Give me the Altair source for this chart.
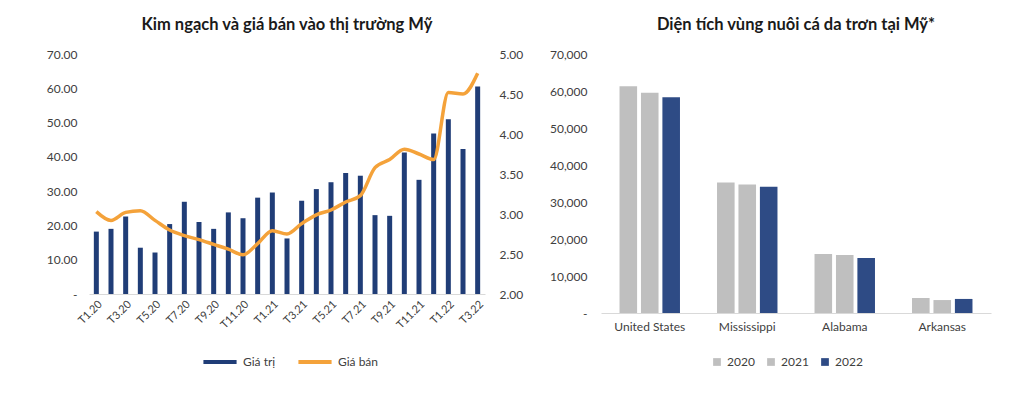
import altair as alt
import pandas as pd

months = ["T1.20", "T2.20", "T3.20", "T4.20", "T5.20", "T6.20", "T7.20", "T8.20", "T9.20",
          "T10.20", "T11.20", "T12.20", "T1.21", "T2.21", "T3.21", "T4.21", "T5.21", "T6.21",
          "T7.21", "T8.21", "T9.21", "T10.21", "T11.21", "T12.21", "T1.22", "T2.22", "T3.22"]
tick_months = ["T1.20", "T3.20", "T5.20", "T7.20", "T9.20", "T11.20", "T1.21", "T3.21",
               "T5.21", "T7.21", "T9.21", "T11.21", "T1.22", "T3.22"]
gia_tri = [18.2, 19.0, 22.6, 13.5, 12.1, 20.4, 26.9, 21.0, 19.0, 23.8, 22.1, 28.1, 29.6, 16.2,
           27.2, 30.6, 32.6, 35.3, 34.5, 23.0, 22.8, 41.3, 33.3, 46.8, 51.0, 42.3, 60.5]
gia_ban = [3.03, 2.92, 3.02, 3.04, 2.92, 2.80, 2.73, 2.68, 2.62, 2.56, 2.49, 2.63, 2.79, 2.75,
           2.88, 2.99, 3.05, 3.15, 3.23, 3.58, 3.68, 3.81, 3.75, 3.68, 4.52, 4.50, 4.76]

regions = ["United States", "Mississippi", "Alabama", "Arkansas"]
years = ["2020", "2021", "2022"]
area_2020 = [61300, 35300, 15950, 4050]
area_2021 = [59500, 34700, 15700, 3500]
area_2022 = [58300, 34150, 14850, 3800]

FONT = "Lato"
NAVY = "#203D77"
ORANGE = "#F4A23A"
GREY = "#BFBFBF"
NAVY2 = "#2E4B85"
TXT = "#404040"

df_left = pd.DataFrame({"thang": months, "gia_tri": gia_tri, "gia_ban": gia_ban})

color_left = alt.Color("series:N",
                       scale=alt.Scale(domain=["Giá trị", "Giá bán"], range=[NAVY, ORANGE]),
                       legend=alt.Legend(title=None, orient="none", direction="horizontal",
                                         legendX=112, legendY=289, symbolType="stroke",
                                         symbolSize=1100, symbolStrokeWidth=4,
                                         labelFontSize=12, labelColor=TXT, columnPadding=14,
                                         labelFont=FONT))

xl = alt.X("thang:N", sort=months, scale=alt.Scale(paddingInner=0.0, paddingOuter=0.0),
           axis=alt.Axis(title=None, values=tick_months, labelAngle=-45, labelFontSize=11,
                         labelColor=TXT, ticks=False, domainColor="#D9D9D9", labelPadding=4,
                         labelFont=FONT))

bars = alt.Chart(df_left).transform_calculate(series="'Giá trị'").mark_bar(size=5).encode(
    x=xl,
    y=alt.Y("gia_tri:Q", scale=alt.Scale(domain=[0, 70]),
            axis=alt.Axis(title=None, values=[0, 10, 20, 30, 40, 50, 60, 70], grid=False,
                          domain=False, ticks=False, labelPadding=12, labelFontSize=12,
                          labelColor=TXT, labelFont=FONT,
                          labelExpr="datum.value == 0 ? '-' : format(datum.value, '.2f')")),
    color=color_left,
)

line = alt.Chart(df_left).transform_calculate(series="'Giá bán'").mark_line(
    strokeWidth=3.5, interpolate="monotone").encode(
    x=xl,
    y=alt.Y("gia_ban:Q", scale=alt.Scale(domain=[2, 5]),
            axis=alt.Axis(title=None, orient="right", values=[2, 2.5, 3, 3.5, 4, 4.5, 5],
                          grid=False, domain=False, ticks=False, labelPadding=14,
                          labelFontSize=12, labelColor=TXT, labelFont=FONT, format=".2f")),
    color=color_left,
)

left = alt.layer(bars, line).resolve_scale(y="independent").properties(
    width=396, height=240,
    title=alt.TitleParams("Kim ngạch và giá bán vào thị trường Mỹ", fontSize=16.5,
                          fontWeight="bold", font=FONT, color="#1a1a1a", offset=15),
)

rows = []
for i, r in enumerate(regions):
    for y, vals in zip(years, [area_2020, area_2021, area_2022]):
        rows.append({"region": r, "year": y, "area": vals[i]})
df_right = pd.DataFrame(rows)

right = alt.Chart(df_right).mark_bar().encode(
    x=alt.X("region:N", sort=regions, scale=alt.Scale(paddingInner=0.38, paddingOuter=0.19),
            axis=alt.Axis(title=None, labelAngle=0, labelFontSize=12, labelColor=TXT,
                          ticks=False, domainColor="#D9D9D9", labelPadding=8, labelFont=FONT)),
    xOffset=alt.XOffset("year:N", sort=years, scale=alt.Scale(paddingInner=0.18)),
    y=alt.Y("area:Q", scale=alt.Scale(domain=[0, 70000]),
            axis=alt.Axis(title=None, values=[0, 10000, 20000, 30000, 40000, 50000, 60000, 70000],
                          grid=False, domain=False, ticks=False, labelPadding=14,
                          labelFontSize=12, labelColor=TXT, labelFont=FONT,
                          labelExpr="datum.value == 0 ? '-' : format(datum.value, ',')")),
    color=alt.Color("year:N", sort=years,
                    scale=alt.Scale(domain=years, range=[GREY, GREY, NAVY2]),
                    legend=alt.Legend(title=None, orient="none", direction="horizontal",
                                      legendX=110, legendY=302, symbolType="square",
                                      symbolSize=60, labelFontSize=12, labelColor=TXT,
                                      columnPadding=10, labelFont=FONT)),
).properties(
    width=390, height=259,
    title=alt.TitleParams("Diện tích vùng nuôi cá da trơn tại Mỹ*", fontSize=16.5,
                          fontWeight="bold", font=FONT, color="#1a1a1a", offset=15),
)

chart = alt.hconcat(left, right, spacing=26).resolve_scale(color="independent").properties(
    padding={"left": 38, "top": 8, "right": 10, "bottom": 5}
).configure(background="white").configure_view(stroke=None)

chart.save("out.html", embed_options={"renderer": "svg", "actions": False})
